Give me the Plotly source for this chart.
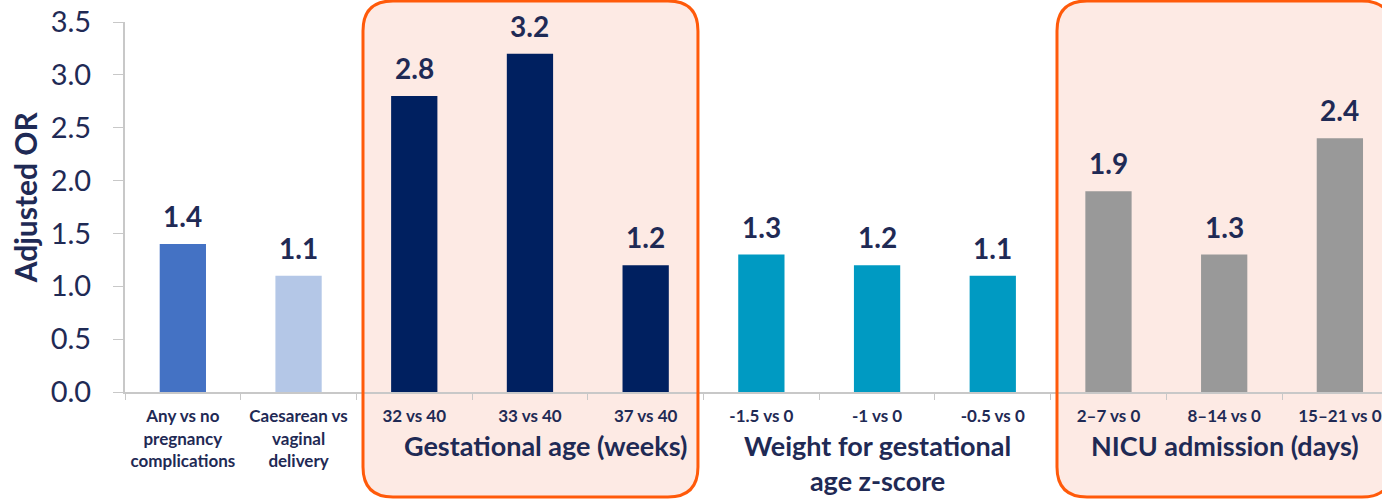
import plotly.graph_objects as go

# Adjusted odds ratios by exposure category
categories = [
    "Any vs no<br>pregnancy<br>complications",
    "Caesarean vs<br>vaginal<br>delivery",
    "32 vs 40", "33 vs 40", "37 vs 40",
    "-1.5 vs 0", "-1 vs 0", "-0.5 vs 0",
    "2\u20137 vs 0", "8\u201314 vs 0", "15\u201321 vs 0",
]
adjusted_or = [1.4, 1.1, 2.8, 3.2, 1.2, 1.3, 1.2, 1.1, 1.9, 1.3, 2.4]
bar_colors = [
    "#4472C4", "#B4C7E7",
    "#002060", "#002060", "#002060",
    "#009AC2", "#009AC2", "#009AC2",
    "#999999", "#999999", "#999999",
]
y_ticks = [0.0, 0.5, 1.0, 1.5, 2.0, 2.5, 3.0, 3.5]
group_labels = [
    ("Gestational age (weeks)", 3.13),
    ("Weight for gestational<br>age z-score", 6.0),
    ("NICU admission (days)", 9.01),
]

NAVY = "#1F2A55"
FONT = "Lato"

fig = go.Figure(
    go.Bar(
        x=categories,
        y=adjusted_or,
        marker=dict(color=bar_colors, line=dict(width=0)),
        width=0.4,
        hoverinfo="x+y",
    )
)

# Value labels above each bar
for cat, val in zip(categories, adjusted_or):
    fig.add_annotation(
        x=cat, y=val, xref="x", yref="y",
        text=f"<b>{val:.1f}</b>",
        showarrow=False, yanchor="bottom", yshift=9,
        font=dict(family=FONT, size=28, color=NAVY),
    )

# Group captions under the category labels
for text, xc in group_labels:
    fig.add_annotation(
        x=xc, y=-0.094, xref="x", yref="paper",
        text=f"<b>{text}</b>",
        showarrow=False, yanchor="top", align="center",
        font=dict(family=FONT, size=27, color=NAVY),
    )

# Y axis title
fig.add_annotation(
    x=-0.0796, y=0.526, xref="paper", yref="paper",
    xanchor="center", yanchor="middle",
    text="<b>Adjusted OR</b>", textangle=-90, showarrow=False,
    font=dict(family=FONT, size=30, color=NAVY),
)


def rounded_box(x0, x1, y0, y1, rx, ry):
    return (
        f"M {x0 + rx},{y1} L {x1 - rx},{y1} Q {x1},{y1} {x1},{y1 - ry} "
        f"L {x1},{y0 + ry} Q {x1},{y0} {x1 - rx},{y0} "
        f"L {x0 + rx},{y0} Q {x0},{y0} {x0},{y0 + ry} "
        f"L {x0},{y1 - ry} Q {x0},{y1} {x0 + rx},{y1} Z"
    )


# Highlight panels around the gestational-age and NICU groups
px_per_cat = 115.7
px_per_paper = 370.0
rx = 30 / px_per_cat
ry = 30 / px_per_paper
for x0, x1 in [(1.557, 4.452), (7.555, 10.45)]:
    path = rounded_box(x0, x1, -0.284, 1.057, rx, ry)
    fig.add_shape(type="path", path=path, xref="x", yref="paper",
                  fillcolor="#FDEAE4", line=dict(width=0), layer="below")
    fig.add_shape(type="path", path=path, xref="x", yref="paper",
                  fillcolor="rgba(0,0,0,0)", line=dict(color="#FF5A0A", width=3),
                  layer="above")

fig.update_layout(
    width=1382, height=500,
    margin=dict(l=125, r=0, t=22, b=108),
    plot_bgcolor="rgba(0,0,0,0)", paper_bgcolor="white",
    showlegend=False, bargap=0.6,
    xaxis=dict(
        type="category", categoryorder="array", categoryarray=categories,
        range=[-0.5, 10.364],
        showline=True, linecolor="#C8C8C8", linewidth=2,
        ticks="outside", tickson="boundaries", ticklen=6, tickcolor="#C8C8C8",
        ticklabelstandoff=8,
        tickfont=dict(family=FONT, size=17, color=NAVY, weight="bold"),
        showgrid=False, zeroline=False,
    ),
    yaxis=dict(
        range=[0, 3.5], tickvals=y_ticks, tickformat=".1f",
        showline=True, linecolor="#C8C8C8", linewidth=2,
        ticks="outside", ticklen=10, tickcolor="#C8C8C8",
        ticklabelstandoff=16,
        tickfont=dict(family=FONT, size=29, color=NAVY),
        showgrid=False, zeroline=False,
    ),
)

fig.write_html("out.html")
